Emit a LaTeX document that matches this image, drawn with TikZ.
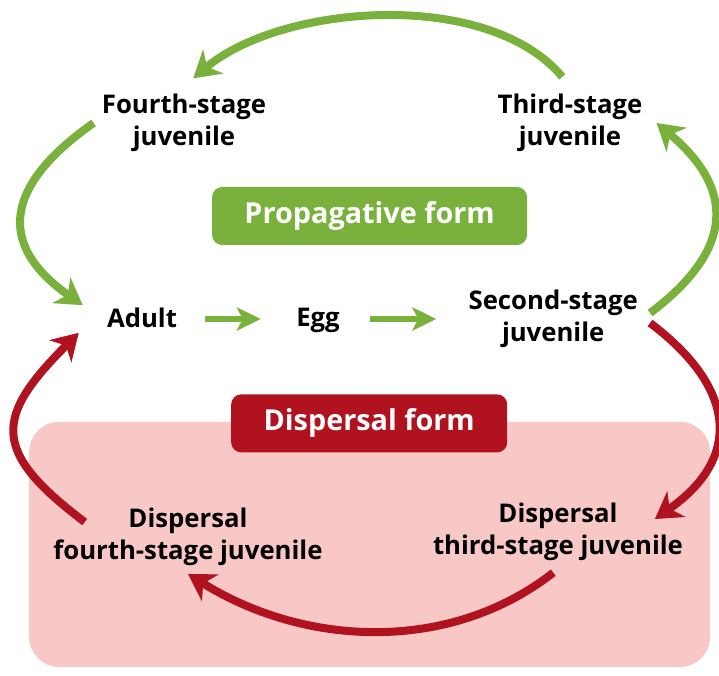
\documentclass[tikz,border=0pt]{standalone}
\usepackage{fontspec}
\setmainfont{Open Sans}
\usepackage{xcolor}
\usepackage{tikz}
\usetikzlibrary{arrows.meta,positioning}

\definecolor{propgreen}{RGB}{122,176,60}
\definecolor{disperred}{RGB}{176,18,32}
\definecolor{disperpink}{RGB}{248,200,198}

\tikzset{
    stage/.style={
        font=\fontsize{18.3}{22.5}\selectfont\bfseries,
        align=center,
        inner sep=0.2cm
    },
    formbox/.style={
        rounded corners=0.25cm,
        text=white,
        font=\fontsize{20.5}{24}\selectfont\bfseries,
        minimum height=1.45cm
    },
    bigarrow/.style={
        -{Stealth[length=0.65cm,width=0.78cm,inset=0.2cm]},
        line width=0.2cm
    },
    smallarrow/.style={
        -{Stealth[length=0.6cm,width=0.58cm,inset=0.15cm]},
        line width=0.16cm,
        draw=propgreen
    }
}

\begin{document}
\begin{tikzpicture}
                \useasboundingbox (0,0) rectangle (17.975,16.875);

                \fill[
                    disperpink,
                    rounded corners=0.75cm
                    ] (0.73,0.2) rectangle (17.75,6.33);

                \node[stage] (fsj) at (4.6,13.8) {Fourth-stage\\juvenile};
                \node[stage] (tsj) at (14.25,13.8) {Third-stage\\juvenile};

                \node[
                    formbox,
                    fill=propgreen,
                    minimum width=7.875cm
                    ] (prop) at (9.24,11.475) {Propagative form};

                \node[stage, text depth=0.25em] (adult) at (3.55,8.9) {Adult};
                \node[stage, text depth=0.25em] (egg) at (7.95,8.9) {Egg};
                \node[stage] (ssj) at (13.83,8.9) {Second-stage\\juvenile};

                \node[
                    formbox,
                    fill=disperred,
                    minimum width=6.9cm
                    ] (disp) at (9.23,6.29) {Dispersal form};

                \node[stage] (dfsj) at (4.7,3.45) {Dispersal\\fourth-stage juvenile};
                \node[stage] (dtsj) at (13.95,3.575) {Dispersal\\third-stage juvenile};

                \draw[
                    smallarrow,
                    shorten <=0.5cm,
                    shorten >=0.68cm
                    ] (adult) -- (egg);

                \draw[
                    smallarrow,
                    shorten <=0.55cm,
                    shorten >=0.6cm
                    ] (egg) -- (ssj);

                \draw[
                    bigarrow,
                    draw=propgreen,
                    shorten <=0.3cm,
                    shorten >=0.3cm
                    ] (tsj.north) to[out=130, in=40, looseness=0.85] (fsj.north);

                \draw[
                    bigarrow,
                    draw=propgreen
                    ] (fsj.west) to[out=215, in=145, looseness=1.5] ([shift={(-0.4,-0.15)}]adult.north west);

                \draw[
                    bigarrow,
                    draw=propgreen
                    ] ([shift={(0.1,0.15)}]ssj.east) to[out=37, in=-40, looseness=1.4] ([xshift=0.15cm]tsj.east);

                \draw[
                    bigarrow,
                    draw=disperred
                    ] ([shift={(0.1,-0.1)}]ssj.east) to[out=-37, in=35, looseness=1.4] ([shift={(-0.91,-0.6)}]dtsj.north east);

                \draw[
                    bigarrow,
                    draw=disperred,
                    shorten <=0.15cm
                    ] (dtsj.south) to[out=-142, in=-32, looseness=0.95] (dfsj.south);

                \draw[
                    bigarrow,
                    draw=disperred
                    ] ([shift={(0.99,-0.55)}]dfsj.north west) to[out=143, in=225, looseness=1.6] ([shift={(-0.5,0.15)}]adult.south west);

\end{tikzpicture}
\end{document}
